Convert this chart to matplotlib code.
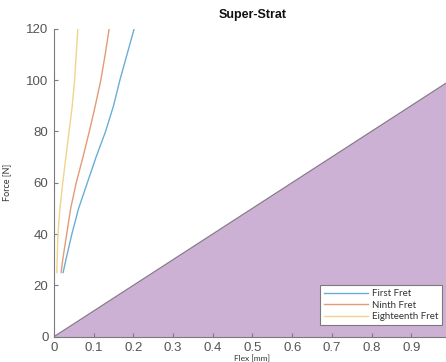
import matplotlib
matplotlib.use("Agg")
import matplotlib.pyplot as plt
from matplotlib.lines import Line2D

# Data
force = [25, 30, 40, 50, 60, 70, 80, 90, 100, 110, 120]
first_fret = [0.023, 0.030, 0.045, 0.062, 0.084, 0.106, 0.130, 0.150, 0.166, 0.184, 0.202]
ninth_fret = [0.018, 0.022, 0.032, 0.042, 0.056, 0.073, 0.089, 0.104, 0.118, 0.129, 0.139]
eighteenth_fret = [0.007, 0.008, 0.010, 0.015, 0.022, 0.030, 0.038, 0.046, 0.052, 0.056, 0.060]
limit_flex = [0.0, 1.0]
limit_force = [0.0, 100.0]
series_labels = ["First Fret", "Ninth Fret", "Eighteenth Fret"]
xticks = [0, 0.1, 0.2, 0.3, 0.4, 0.5, 0.6, 0.7, 0.8, 0.9]
yticks = [0, 20, 40, 60, 80, 100, 120]

plt.rcParams['font.family'] = ['Liberation Sans', 'DejaVu Sans']

fig = plt.figure(figsize=(4.46, 3.62), dpi=100)
ax = fig.add_axes([54/446, (362-336.7)/362, 397/446, 308/362])

ax.fill_between(limit_flex, limit_force, 0, color='#CDB1D5', zorder=1, linewidth=0)
ax.plot(limit_flex, limit_force, color='#8a7a8e', linewidth=1.0, zorder=2)

colors = ['#6aaed6', '#e39a78', '#efd48a']
for xs, c in zip([first_fret, ninth_fret, eighteenth_fret], colors):
    ax.plot(xs, force, color=c, linewidth=1.0, zorder=3)

ax.set_xlim(0, 1)
ax.set_ylim(0, 120)
ax.set_xticks(xticks)
ax.set_xticklabels([("0" if t == 0 else f"{t:g}") for t in xticks])
ax.set_yticks(yticks)
for side in ['top', 'right']:
    ax.spines[side].set_visible(False)
for side in ['left', 'bottom']:
    ax.spines[side].set_color('#7a7a7a')
    ax.spines[side].set_linewidth(0.8)
ax.tick_params(direction='in', length=3, color='#7a7a7a', labelcolor='#555555', labelsize=9.5, pad=4)

ax.set_title("Super-Strat", fontsize=9, fontweight='bold', pad=8, color='#111111')
ax.set_xlabel("Flex [mm]", fontsize=6, color='#333333', family=['Lato', 'DejaVu Sans'])
ax.set_ylabel("Force [N]", fontsize=6.5, color='#333333', family=['Lato', 'DejaVu Sans'])
ax.xaxis.set_label_coords(0.5, -0.06)
ax.yaxis.set_label_coords(-0.108, 0.5)

handles = [Line2D([0], [0], color=c, linewidth=1.0) for c in colors]
leg = ax.legend(handles, series_labels, loc='lower right',
                bbox_to_anchor=(0.977, 0.038), frameon=True, fancybox=False,
                framealpha=1, edgecolor='#7a7a7a',
                prop={'family': ['Lato', 'DejaVu Sans'], 'size': 7},
                handlelength=4.5, handletextpad=0.4, borderpad=0.4,
                labelspacing=0.25, borderaxespad=0)
leg.get_frame().set_linewidth(0.8)
for t in leg.get_texts():
    t.set_color('#333333')

fig.savefig("out.png", dpi=100)
